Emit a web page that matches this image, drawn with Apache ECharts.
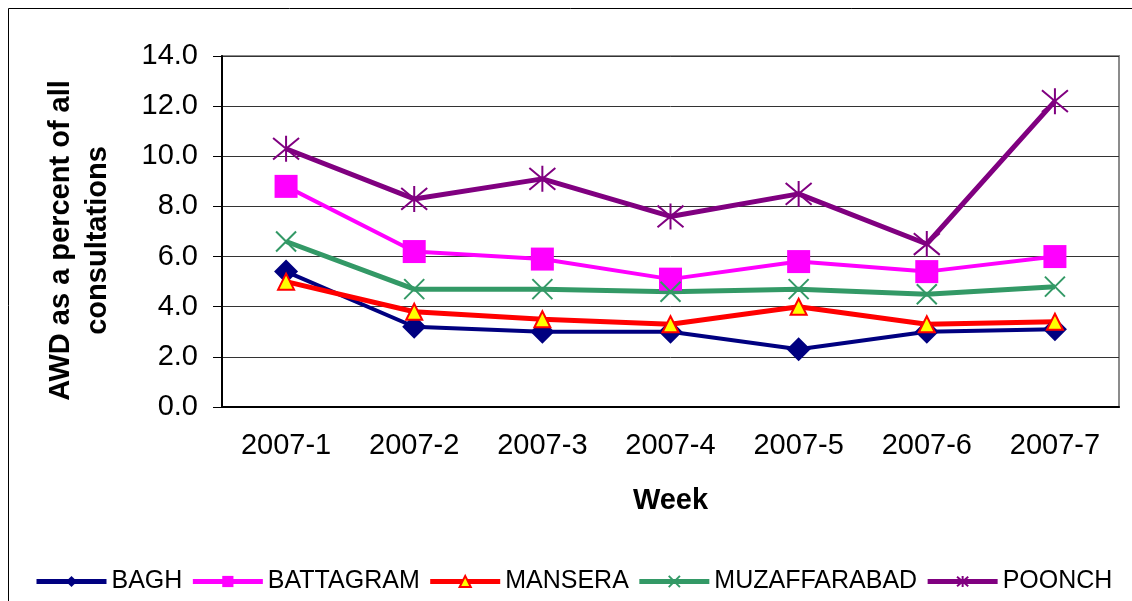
<!DOCTYPE html>
<html>
<head>
<meta charset="utf-8">
<script src="https://cdn.jsdelivr.net/npm/echarts@6/dist/echarts.min.js"></script>
<style>
  html, body { margin: 0; padding: 0; background: #fff; }
  #chart { width: 1132px; height: 601px; }
</style>
</head>
<body>
<div id="chart"></div>
<script>
const weeks = ['2007-1', '2007-2', '2007-3', '2007-4', '2007-5', '2007-6', '2007-7'];
const bagh = [5.4, 3.2, 3.0, 3.0, 2.3, 3.0, 3.1];
const battagram = [8.8, 6.2, 5.9, 5.1, 5.8, 5.4, 6.0];
const mansera = [5.0, 3.8, 3.5, 3.3, 4.0, 3.3, 3.4];
const muzaffarabad = [6.6, 4.7, 4.7, 4.6, 4.7, 4.5, 4.8];
const poonch = [10.3, 8.3, 9.1, 7.6, 8.5, 6.5, 12.2];
const yTicks = [0, 2, 4, 6, 8, 10, 12, 14];

const FONT = '"Liberation Sans", Arial, sans-serif';
const crossPath = 'path://M0 0L10 10M10 0L0 10';
const starPath = 'path://M0 0L10 10M10 0L0 10M5 -1L5 11';

const chart = echarts.init(document.getElementById('chart'));

function lineSeries(name, data, color, width, symbol, size, extra) {
  return Object.assign({
    name: name,
    type: 'line',
    data: data,
    symbol: symbol,
    symbolSize: size,
    showAllSymbol: true,
    animation: false,
    lineStyle: { color: color, width: width },
    itemStyle: { color: color, borderColor: color, borderWidth: 0 }
  }, extra || {});
}

const option = {
  animation: false,
  textStyle: { fontFamily: FONT },
  graphic: [{
    type: 'rect',
    shape: { x: 8.5, y: 8.5, width: 1300, height: 800 },
    style: { fill: 'none', stroke: '#000', lineWidth: 1 },
    silent: true,
    z: -10
  }],
  grid: {
    left: 222,
    right: 13,
    top: 56,
    bottom: 194,
    show: true,
    borderColor: '#8c8c8c',
    borderWidth: 2
  },
  legend: {
    left: 29,
    top: 564,
    width: 1100,
    itemWidth: 70,
    itemHeight: 14,
    itemGap: 8,
    lineStyle: { width: 5 },
    textStyle: { fontSize: 25, color: '#000', fontFamily: FONT },
    data: ['BAGH', 'BATTAGRAM', 'MANSERA', 'MUZAFFARABAD', 'POONCH']
  },
  xAxis: {
    type: 'category',
    data: weeks,
    boundaryGap: true,
    name: 'Week',
    nameLocation: 'middle',
    nameGap: 79,
    nameTextStyle: { fontSize: 29, fontWeight: 'bold', color: '#000' },
    axisLine: { lineStyle: { color: '#000', width: 2 } },
    axisTick: { length: 8, lineStyle: { color: '#000' } },
    axisLabel: { fontSize: 29, color: '#000', margin: 24 },
    splitLine: { show: false }
  },
  yAxis: {
    type: 'value',
    min: 0,
    max: 14,
    interval: 2,
    name: 'AWD as a percent of all\nconsultations',
    nameLocation: 'middle',
    nameGap: 106,
    nameTextStyle: {
      fontSize: 29,
      fontWeight: 'bold',
      color: '#000',
      lineHeight: 37,
      padding: [0, 18, 0, 0]
    },
    axisLine: { show: true, lineStyle: { color: '#000', width: 2 } },
    axisTick: { show: true, length: 9, lineStyle: { color: '#000' } },
    axisLabel: {
      fontSize: 29,
      color: '#000',
      margin: 24,
      formatter: v => yTicks.indexOf(v) >= 0 ? v.toFixed(1) : ''
    },
    splitLine: { lineStyle: { color: '#333', width: 1 } }
  },
  series: [
    lineSeries('BAGH', bagh, '#000080', 4, 'diamond', 24),
    lineSeries('BATTAGRAM', battagram, '#ff00ff', 4, 'rect', 23),
    lineSeries('MANSERA', mansera, '#ff0000', 5, 'triangle', 16, {
      itemStyle: { color: '#ffff00', borderColor: '#ff0000', borderWidth: 2 }
    }),
    lineSeries('MUZAFFARABAD', muzaffarabad, '#339966', 5, crossPath, 20, {
      itemStyle: { color: '#339966', borderColor: '#339966', borderWidth: 2 }
    }),
    lineSeries('POONCH', poonch, '#800080', 5, starPath, 26, {
      itemStyle: { color: '#800080', borderColor: '#800080', borderWidth: 2 }
    })
  ]
};

chart.setOption(option);
</script>
</body>
</html>
